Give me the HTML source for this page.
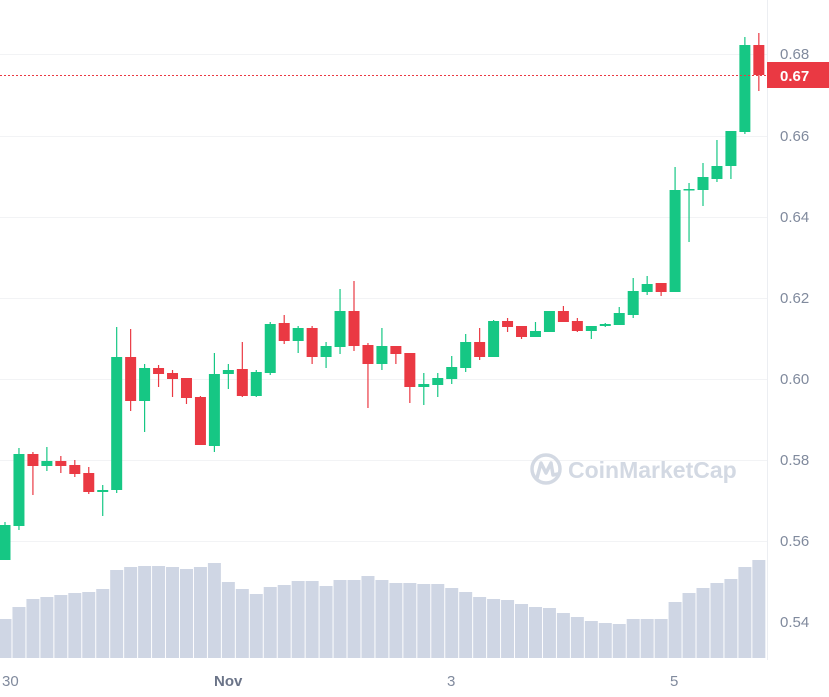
<!DOCTYPE html>
<html><head><meta charset="utf-8"><style>
html,body{margin:0;padding:0;background:#fff;}
svg{display:block;font-family:"Liberation Sans",sans-serif;}
</style></head><body>
<svg id="s" width="829" height="697" viewBox="0 0 829 697" xmlns="http://www.w3.org/2000/svg">
<g stroke="#f2f3f5" stroke-width="1">
<line x1="0" y1="54.5" x2="767" y2="54.5"/><line x1="0" y1="136.5" x2="767" y2="136.5"/>
<line x1="0" y1="217.5" x2="767" y2="217.5"/><line x1="0" y1="298.5" x2="767" y2="298.5"/>
<line x1="0" y1="379.5" x2="767" y2="379.5"/><line x1="0" y1="460.5" x2="767" y2="460.5"/>
<line x1="0" y1="541.5" x2="767" y2="541.5"/>
</g>
<line x1="767.5" y1="0" x2="767.5" y2="660" stroke="#eceef2"/>
<g id="vol" fill="#cfd6e4"></g>
<g id="wm" fill="none" stroke="#d3d9e3" stroke-width="3.5">
<circle cx="546" cy="469" r="14"/>
<path d="M537 478 L541 463 L546 473 L551 463 L553 475 L558 474" stroke-linejoin="round" stroke-linecap="round"/>
</g>
<text x="568" y="478" font-size="23" fill="#d3d9e3" font-weight="bold">CoinMarketCap</text>
<g id="c"></g>
<line x1="0" y1="75.5" x2="767" y2="75.5" stroke="#ea3943" stroke-width="1" stroke-dasharray="2,2"/>
<rect x="767" y="62" width="62" height="26" fill="#ea3943"/>
<text x="780" y="81" font-size="15" font-weight="bold" fill="#fff">0.67</text>
<g font-size="15" fill="#808a9d">
<text x="780" y="59">0.68</text><text x="780" y="141">0.66</text><text x="780" y="222">0.64</text>
<text x="780" y="303">0.62</text><text x="780" y="384">0.60</text><text x="780" y="465">0.58</text>
<text x="780" y="546">0.56</text><text x="780" y="627">0.54</text>
<text x="2" y="686">30</text><text x="447" y="686">3</text><text x="670" y="686">5</text>
<text x="214" y="686" font-weight="bold" fill="#6b7488">Nov</text>
</g>
</svg>
<script>
var C=[[560,525,522,560,1],[526,454,448,530,1],[454,466,452,495,0],[466,461,447,471,1],[461,466,456,473,0],[465,474,460,477,0],[473,492,467,494,0],[492,490,485,516,1],[490,357,327,493,1],[357,401,329,411,0],[401,368,364,432,1],[368,374,365,387,0],[373,379,370,397,0],[378,398,378,404,0],[397,445,396,445,0],[446,374,353,452,1],[374,370,364,389,1],[369,396,342,397,0],[396,372,370,397,1],[373,324,322,375,1],[323,341,315,344,0],[341,328,326,353,1],[328,357,326,364,0],[357,346,342,368,1],[347,311,289,354,1],[311,346,281,351,0],[345,364,343,408,0],[364,346,328,370,1],[346,354,346,364,0],[353,387,353,403,0],[387,384,373,405,1],[385,378,373,397,1],[379,367,356,384,1],[368,342,334,372,1],[342,357,328,360,0],[357,321,320,357,1],[321,327,318,332,0],[326,337,326,339,0],[337,331,322,337,1],[332,311,311,332,1],[311,322,306,322,0],[321,331,318,332,0],[331,326,326,339,1],[326,324,323,327,1],[325,313,307,325,1],[315,291,278,318,1],[292,284,276,295,1],[283,292,283,296,0],[292,190,167,292,1],[190,189,183,242,1],[190,177,163,206,1],[179,166,140,182,1],[166,131,131,179,1],[132,45,37,134,1],[45,75,33,91,0]];
var V=[619,607,599,597,595,593,592,589,570,567,566,566,567,569,567,563,582,589,594,587,585,581,581,586,580,580,576,580,583,583,584,584,588,592,597,599,600,604,607,608,613,617,621,623,624,619,619,619,602,593,588,583,579,567,560];
var ns="http://www.w3.org/2000/svg",c=document.getElementById('c'),v=document.getElementById('vol');
function el(t,a,p){var e=document.createElementNS(ns,t);for(var k in a)e.setAttribute(k,a[k]);p.appendChild(e);}
for(var i=0;i<55;i++){var x=5+i*13.96;
el('rect',{x:x-6.5,y:V[i],width:13,height:658-V[i]},v);
var d=C[i],col=d[4]?'#16c784':'#ea3943',t=Math.min(d[0],d[1]),b=Math.max(d[0],d[1]);
el('line',{x1:x,x2:x,y1:d[2],y2:d[3],stroke:col,'stroke-width':1.2},c);
el('rect',{x:x-5.5,y:t,width:11,height:Math.max(b-t,1.5),fill:col},c);}
</script>
</body></html>
